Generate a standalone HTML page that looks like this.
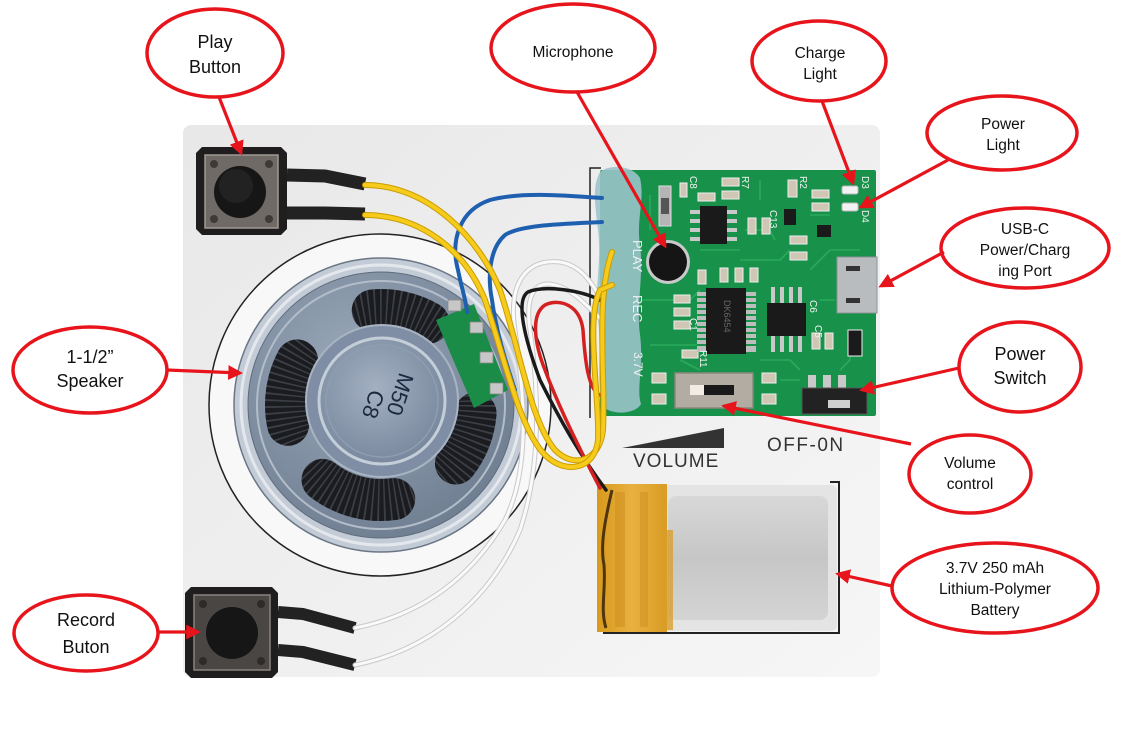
<!DOCTYPE html>
<html><head><meta charset="utf-8"><style>
html,body{margin:0;padding:0;background:#fff;}
svg{display:block;}
</style></head><body>
<svg width="1123" height="740" viewBox="0 0 1123 740" xmlns="http://www.w3.org/2000/svg" font-family="'Liberation Sans', Arial, sans-serif">
<defs>
 <linearGradient id="bd" x1="0" y1="0" x2="1" y2="1"><stop offset="0" stop-color="#e8e8e8"/><stop offset="1" stop-color="#f6f6f6"/></linearGradient>
 <radialGradient id="rim" cx="0.4" cy="0.35" r="0.75"><stop offset="0" stop-color="#9aa8ba"/><stop offset="1" stop-color="#6c7a8e"/></radialGradient>
 <radialGradient id="cap" cx="0.45" cy="0.4" r="0.65"><stop offset="0" stop-color="#a3b0c2"/><stop offset="1" stop-color="#76859b"/></radialGradient>
 <linearGradient id="bat" x1="0" y1="0" x2="0" y2="1"><stop offset="0" stop-color="#d8d8d8"/><stop offset="0.5" stop-color="#c6c6c6"/><stop offset="1" stop-color="#d4d4d4"/></linearGradient>
 <linearGradient id="tape" x1="0" y1="0" x2="1" y2="0"><stop offset="0" stop-color="#d89a1c"/><stop offset="0.5" stop-color="#e8b040"/><stop offset="1" stop-color="#d99c24"/></linearGradient>
 <marker id="ah" viewBox="0 0 10 10" refX="8" refY="5" markerWidth="4.6" markerHeight="4.6" orient="auto" markerUnits="strokeWidth"><path d="M0,0 L10,5 L0,10 z" fill="#e8141c"/></marker>
 <mask id="slotm" maskUnits="userSpaceOnUse" x="0" y="0" width="1123" height="740">
  <g stroke="#fff" stroke-width="42" stroke-linecap="round" fill="none">
   <path d="M372.7,310.4 A95,95 0 0 1 428.5,322.7"/>
   <path d="M475.6,413.3 A95,95 0 0 1 455.9,463.5"/>
   <path d="M394.2,499.1 A95,95 0 0 1 322.5,479.9"/>
   <path d="M288.1,424.8 A95,95 0 0 1 297.1,360.4"/>
  </g>
 </mask>
</defs>

<!-- board -->
<rect x="183" y="125" width="697" height="552" rx="8" fill="url(#bd)"/>

<!-- printed circle -->
<circle cx="380" cy="405" r="171" fill="#f8f8f8" stroke="#222" stroke-width="1.5"/>

<!-- speaker -->
<circle cx="381" cy="405" r="147" fill="#c3ccd6" stroke="#6a7686" stroke-width="1.5"/>
<circle cx="381" cy="405" r="140" fill="none" stroke="#e4e8ed" stroke-width="3"/>
<circle cx="381" cy="405" r="133" fill="url(#rim)" stroke="#5f6b7c" stroke-width="1"/>
<circle cx="381" cy="405" r="124" fill="none" stroke="#b3bdca" stroke-width="2"/>
<g mask="url(#slotm)">
 <rect x="230" y="250" width="300" height="300" fill="#1b1c20"/>
 <circle cx="381" cy="405" r="95" fill="none" stroke="#3c3f46" stroke-width="44" stroke-dasharray="1.6 4.2"/>
</g>
<circle cx="382" cy="401" r="76" fill="#7f8ea4" stroke="#a9b4c2" stroke-width="2"/>
<circle cx="382" cy="401" r="63" fill="url(#cap)" stroke="#c4ced9" stroke-width="3"/>
<circle cx="382" cy="401" r="56" fill="none" stroke="#8f9db1" stroke-width="1.5"/>
<text transform="translate(393,392) rotate(108)" text-anchor="middle" font-size="22" fill="#1c2740">M50</text>
<text transform="translate(366,402) rotate(108)" text-anchor="middle" font-size="22" fill="#1c2740">C8</text>

<!-- top button -->
<path d="M202,147 L281,147 L287,153 L287,229 L281,235 L202,235 L196,229 L196,153 Z" fill="#1f1d1d"/>
<rect x="205" y="155" width="73" height="73" fill="#6f6a66" stroke="#a09a95" stroke-width="1.5"/>
<g fill="#3e3a37"><circle cx="214" cy="164" r="4"/><circle cx="269" cy="164" r="4"/><circle cx="214" cy="219" r="4"/><circle cx="269" cy="219" r="4"/></g>
<circle cx="240" cy="192" r="26" fill="#161616"/>
<circle cx="236" cy="186" r="17" fill="#222"/>
<path d="M287,175 L325,176 L365,184" stroke="#222" stroke-width="13" fill="none" stroke-linejoin="round"/>
<path d="M287,213 L325,213 L365,214" stroke="#222" stroke-width="13" fill="none" stroke-linejoin="round"/>

<!-- bottom button -->
<path d="M191,587 L272,587 L278,593 L278,672 L272,678 L191,678 L185,672 L185,593 Z" fill="#1f1d1d"/>
<rect x="194" y="595" width="76" height="75" fill="#4a4644" stroke="#8a8480" stroke-width="1.5"/>
<g fill="#2e2b29"><circle cx="203" cy="604" r="4"/><circle cx="261" cy="604" r="4"/><circle cx="203" cy="661" r="4"/><circle cx="261" cy="661" r="4"/></g>
<circle cx="232" cy="633" r="26" fill="#161616"/>
<path d="M278,612 L303,614 L355,628" stroke="#222" stroke-width="12" fill="none" stroke-linejoin="round"/>
<path d="M278,650 L303,652 L355,665" stroke="#222" stroke-width="12" fill="none" stroke-linejoin="round"/>

<!-- printed rectangle line -->
<path d="M601,168 L590,168 L590,418" stroke="#222" stroke-width="1.5" fill="none"/>

<!-- PCB -->
<rect x="600" y="170" width="276" height="246" rx="2" fill="#18924a"/>
<g stroke="#2fb062" stroke-width="1.6" fill="none" opacity="0.8">
 <path d="M640,300 L690,300 L700,290"/><path d="M650,345 L700,345 L705,355"/><path d="M740,260 L780,260 L790,250"/>
 <path d="M810,270 L830,250 L860,250"/><path d="M760,360 L790,360 L800,370"/><path d="M680,360 L700,370"/>
 <path d="M820,300 L835,300"/><path d="M650,195 L650,230"/><path d="M745,230 L770,230 L775,240"/>
 <path d="M810,215 L830,215"/><path d="M760,200 L760,180"/><path d="M700,250 L740,250"/>
 <path d="M850,330 L850,360 L840,370"/><path d="M780,380 L800,380"/>
</g>
<!-- SMD parts -->
<g fill="#cfc6b4" stroke="#eeeeee" stroke-width="1">
 <rect x="680" y="183" width="7" height="14"/><rect x="698" y="193" width="17" height="8"/>
 <rect x="722" y="178" width="17" height="8"/><rect x="722" y="191" width="17" height="8"/>
 <rect x="788" y="180" width="9" height="17"/><rect x="812" y="190" width="17" height="8"/>
 <rect x="812" y="203" width="17" height="8"/><rect x="748" y="218" width="8" height="16"/>
 <rect x="762" y="218" width="8" height="16"/><rect x="790" y="236" width="17" height="8"/>
 <rect x="790" y="252" width="17" height="8"/><rect x="720" y="268" width="8" height="14"/>
 <rect x="735" y="268" width="8" height="14"/><rect x="750" y="268" width="8" height="14"/>
 <rect x="698" y="270" width="8" height="14"/><rect x="674" y="295" width="16" height="8"/>
 <rect x="674" y="308" width="16" height="8"/><rect x="674" y="321" width="16" height="8"/>
 <rect x="682" y="350" width="16" height="8"/><rect x="812" y="333" width="8" height="16"/>
 <rect x="825" y="333" width="8" height="16"/><rect x="652" y="373" width="14" height="10"/>
 <rect x="652" y="394" width="14" height="10"/><rect x="762" y="373" width="14" height="10"/>
 <rect x="762" y="394" width="14" height="10"/>
</g>
<!-- LEDs -->
<rect x="842" y="186" width="16" height="8" rx="2" fill="#f2f2f2" stroke="#bbb"/>
<rect x="842" y="203" width="16" height="8" rx="2" fill="#f2f2f2" stroke="#bbb"/>
<!-- C10 -->
<rect x="659" y="186" width="12" height="40" fill="#b5b5b5" stroke="#ddd"/>
<rect x="661" y="198" width="8" height="16" fill="#555"/>
<!-- top IC -->
<g fill="#c8c8c8"><rect x="690" y="210" width="10" height="4"/><rect x="690" y="219" width="10" height="4"/><rect x="690" y="228" width="10" height="4"/><rect x="690" y="237" width="10" height="4"/>
<rect x="727" y="210" width="10" height="4"/><rect x="727" y="219" width="10" height="4"/><rect x="727" y="228" width="10" height="4"/><rect x="727" y="237" width="10" height="4"/></g>
<rect x="700" y="206" width="27" height="38" fill="#1a1a1a"/>
<!-- microphone -->
<circle cx="668" cy="262" r="22" fill="#c9c9c9"/>
<circle cx="668" cy="262" r="19" fill="#151515"/>
<!-- main IC -->
<g fill="#bdbdbd">
 <rect x="697" y="292" width="11" height="60"/><rect x="745" y="292" width="11" height="60"/>
</g>
<g stroke="#18924a" stroke-width="2"><path d="M697,297 H708 M697,303 H708 M697,309 H708 M697,315 H708 M697,321 H708 M697,327 H708 M697,333 H708 M697,339 H708 M697,345 H708 M745,297 H756 M745,303 H756 M745,309 H756 M745,315 H756 M745,321 H756 M745,327 H756 M745,333 H756 M745,339 H756 M745,345 H756"/></g>
<rect x="706" y="288" width="40" height="66" fill="#1a1a1a"/>
<text transform="translate(724,300) rotate(90)" font-size="9" fill="#666">DK6454</text>
<!-- right IC -->
<g fill="#c8c8c8"><rect x="771" y="287" width="4" height="16"/><rect x="780" y="287" width="4" height="16"/><rect x="789" y="287" width="4" height="16"/><rect x="798" y="287" width="4" height="16"/>
<rect x="771" y="336" width="4" height="16"/><rect x="780" y="336" width="4" height="16"/><rect x="789" y="336" width="4" height="16"/><rect x="798" y="336" width="4" height="16"/></g>
<rect x="767" y="303" width="39" height="33" fill="#1a1a1a"/>
<!-- small transistors -->
<rect x="817" y="225" width="14" height="12" fill="#1a1a1a"/><rect x="784" y="209" width="12" height="16" fill="#1a1a1a"/>
<rect x="848" y="330" width="14" height="26" fill="#1a1a1a" stroke="#eee" stroke-width="1"/>
<!-- USB port -->
<rect x="837" y="257" width="40" height="56" fill="#b9bcbf" stroke="#8d9094"/>
<rect x="846" y="266" width="14" height="5" fill="#333"/><rect x="846" y="298" width="14" height="5" fill="#333"/>
<!-- slide switch -->
<rect x="675" y="373" width="78" height="35" fill="#b3aca2" stroke="#8c867e" stroke-width="1.5"/>
<rect x="690" y="385" width="14" height="10" fill="#f2ede4"/><rect x="704" y="385" width="30" height="10" fill="#1a1a1a"/>
<!-- power switch -->
<g fill="#c9c9c9"><rect x="808" y="375" width="8" height="13"/><rect x="823" y="375" width="8" height="13"/><rect x="838" y="375" width="8" height="13"/></g>
<rect x="802" y="388" width="65" height="26" fill="#222" stroke="#555"/>
<rect x="828" y="400" width="22" height="8" fill="#cfcfcf"/>
<!-- glue -->
<path d="M600,172 C610,164 632,165 640,178 C645,200 636,220 640,245 C644,275 636,305 640,335 C644,365 636,390 641,404 C636,414 612,416 602,406 C596,380 602,350 598,320 C594,290 602,260 598,230 C595,205 592,186 600,172 Z" fill="#9cc4cc" opacity="0.88"/>
<!-- PCB silk text -->
<g fill="#f2f2f2" font-size="10">
 <text transform="translate(633,240) rotate(90)" font-size="13">PLAY</text>
 <text transform="translate(633,295) rotate(90)" font-size="13">REC</text>
 <text transform="translate(634,352) rotate(90)" font-size="12">3.7V</text>
 <text transform="translate(690,176) rotate(90)">C8</text>
 <text transform="translate(742,176) rotate(90)">R7</text>
 <text transform="translate(800,176) rotate(90)">R2</text>
 <text transform="translate(862,176) rotate(90)">D3</text>
 <text transform="translate(862,210) rotate(90)">D4</text>
 <text transform="translate(770,210) rotate(90)">C13</text>
 <text transform="translate(810,300) rotate(90)">C6</text>
 <text transform="translate(690,318) rotate(90)">C1</text>
 <text transform="translate(815,325) rotate(90)">C5</text>
 <text transform="translate(700,350) rotate(90)">R11</text>
</g>

<!-- VOLUME / OFF-ON -->
<path d="M622,448 L724,428 L724,448 Z" fill="#333"/>
<text x="633" y="467" font-size="19" fill="#333" letter-spacing="1">VOLUME</text>
<text x="767" y="451" font-size="19" fill="#333" letter-spacing="1.5">OFF-0N</text>

<!-- battery -->
<path d="M830,482 L839,482 L839,633 L603,633" stroke="#222" stroke-width="2" fill="none"/>
<rect x="662" y="485" width="175" height="146" rx="6" fill="#e4e4e4"/>
<rect x="668" y="496" width="160" height="124" rx="8" fill="url(#bat)"/>
<rect x="597" y="484" width="70" height="148" fill="url(#tape)"/>
<rect x="667" y="530" width="6" height="100" fill="#d9a030" opacity="0.8"/>
<path d="M612,490 C605,520 600,545 604,565 C606,590 600,610 606,628" stroke="#2a1a0a" stroke-width="3" fill="none" opacity="0.8"/>
<rect x="615" y="492" width="10" height="135" fill="#c98516" opacity="0.4"/>
<rect x="640" y="492" width="8" height="135" fill="#c98516" opacity="0.35"/>

<!-- green terminal on speaker -->
<path d="M436,320 L474,304 L508,390 L474,408 Z" fill="#1a8c47"/>
<g fill="#c7c7c7" stroke="#888" stroke-width="0.8">
 <rect x="448" y="300" width="13" height="11"/><rect x="470" y="322" width="13" height="11"/>
 <rect x="480" y="352" width="13" height="11"/><rect x="490" y="383" width="13" height="11"/>
</g>

<!-- wires -->
<g fill="none" stroke-linecap="round">
 <!-- white -->
 <path d="M355,628 C420,615 470,580 505,520 C530,470 525,400 515,330 C508,285 525,258 560,262 C585,266 595,290 602,300" stroke="#c9c9c9" stroke-width="5"/>
 <path d="M355,628 C420,615 470,580 505,520 C530,470 525,400 515,330 C508,285 525,258 560,262 C585,266 595,290 602,300" stroke="#fafafa" stroke-width="3"/>
 <path d="M355,665 C430,650 490,600 520,530 C540,470 540,400 530,330 C525,295 535,280 555,285 C575,290 590,310 602,320" stroke="#c9c9c9" stroke-width="5"/>
 <path d="M355,665 C430,650 490,600 520,530 C540,470 540,400 530,330 C525,295 535,280 555,285 C575,290 590,310 602,320" stroke="#fafafa" stroke-width="3"/>
 <!-- black & red -->
 <path d="M600,300 C580,290 545,285 528,292 C515,300 525,340 540,380 C560,420 580,455 606,490" stroke="#1a1a1a" stroke-width="3.5"/>
 <path d="M600,395 C588,390 585,360 583,330 C580,305 560,298 545,305 C530,315 535,345 545,370 C560,410 580,450 600,488" stroke="#d42020" stroke-width="3.5"/>
 <!-- blue -->
 <path d="M602,198 C560,195 520,192 490,200 C460,210 450,240 458,270 C462,290 466,300 467,312" stroke="#1f5fb0" stroke-width="4"/>
 <path d="M602,222 C560,224 520,225 505,235 C488,250 488,280 492,300 C496,330 505,360 515,390" stroke="#1f5fb0" stroke-width="4"/>
 <!-- yellow -->
 <path d="M365,185 C430,185 480,240 500,290 C520,350 530,420 555,450 C575,470 600,460 603,430 C606,380 595,300 612,252" stroke="#c99c00" stroke-width="6"/>
 <path d="M365,185 C430,185 480,240 500,290 C520,350 530,420 555,450 C575,470 600,460 603,430 C606,380 595,300 612,252" stroke="#f6cb1c" stroke-width="4"/>
 <path d="M365,215 C420,215 465,250 485,300 C505,360 520,430 545,455 C565,475 595,470 598,440 C600,400 585,320 600,290 L612,285" stroke="#c99c00" stroke-width="6"/>
 <path d="M365,215 C420,215 465,250 485,300 C505,360 520,430 545,455 C565,475 595,470 598,440 C600,400 585,320 600,290 L612,285" stroke="#f6cb1c" stroke-width="4"/>
</g>

<!-- callouts -->
<g fill="#fff" stroke="#e8141c" stroke-width="3.5">
 <ellipse cx="215" cy="53" rx="68" ry="44"/>
 <ellipse cx="573" cy="48" rx="82" ry="44"/>
 <ellipse cx="819" cy="61" rx="67" ry="40"/>
 <ellipse cx="1002" cy="133" rx="75" ry="37"/>
 <ellipse cx="1025" cy="248" rx="84" ry="40"/>
 <ellipse cx="90" cy="370" rx="77" ry="43"/>
 <ellipse cx="1020" cy="367" rx="61" ry="45"/>
 <ellipse cx="970" cy="474" rx="61" ry="39"/>
 <ellipse cx="995" cy="588" rx="103" ry="45"/>
 <ellipse cx="86" cy="633" rx="72" ry="38"/>
</g>
<g stroke="#e8141c" stroke-width="3.2" fill="none" marker-end="url(#ah)">
 <line x1="219" y1="97" x2="241" y2="153"/>
 <line x1="577" y1="92" x2="665" y2="246"/>
 <line x1="822" y1="101" x2="853" y2="183"/>
 <line x1="948" y1="160" x2="861" y2="207"/>
 <line x1="944" y1="252" x2="881" y2="286"/>
 <line x1="167" y1="370" x2="240" y2="373"/>
 <line x1="959" y1="368" x2="862" y2="390"/>
 <line x1="911" y1="444" x2="724" y2="406"/>
 <line x1="892" y1="586" x2="838" y2="574"/>
 <line x1="158" y1="632" x2="198" y2="632"/>
</g>
<g fill="#111" text-anchor="middle">
 <g font-size="18">
  <text x="215" y="48">Play</text><text x="215" y="73">Button</text>
  <text x="90" y="363">1-1/2”</text><text x="90" y="387">Speaker</text>
  <text x="86" y="626">Record</text><text x="86" y="653">Buton</text>
  <text x="1020" y="360">Power</text><text x="1020" y="384">Switch</text>
 </g>
 <g font-size="15.5">
  <text x="573" y="57">Microphone</text>
  <text x="820" y="58">Charge</text><text x="820" y="79">Light</text>
  <text x="1003" y="129">Power</text><text x="1003" y="150">Light</text>
  <text x="1025" y="234">USB-C</text><text x="1025" y="255">Power/Charg</text><text x="1025" y="276">ing Port</text>
  <text x="970" y="468">Volume</text><text x="970" y="489">control</text>
  <text x="995" y="573">3.7V 250 mAh</text><text x="995" y="594">Lithium-Polymer</text><text x="995" y="615">Battery</text>
 </g>
</g>
</svg>
</body></html>
